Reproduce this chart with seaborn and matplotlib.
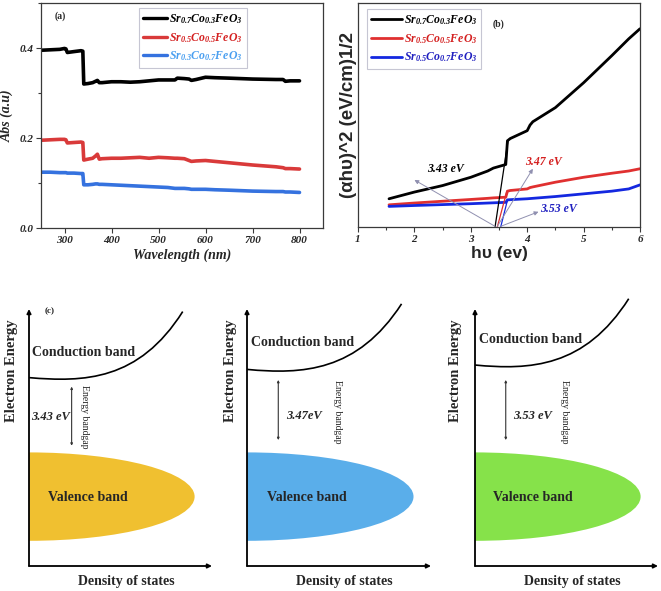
import numpy as np
import pandas as pd
import matplotlib
matplotlib.use('Agg')
import matplotlib.pyplot as plt
import seaborn as sns
from matplotlib.patches import Ellipse, Rectangle, PathPatch
from matplotlib.path import Path
from matplotlib.ticker import MultipleLocator

# ---------------- data ----------------
# panel (a): absorbance vs wavelength
wl_a = [250, 270, 290, 300, 303, 306, 320, 335, 339, 341, 350, 360, 366, 370, 374, 380,
        400, 420, 440, 460, 480, 500, 520, 535, 540, 555, 565, 570, 580, 600, 620, 650,
        700, 750, 765, 770, 780, 800]
abs_sr07 = [0.395, 0.396, 0.397, 0.399, 0.398, 0.390, 0.392, 0.394, 0.393, 0.320, 0.321, 0.323,
            0.326, 0.328, 0.323, 0.323, 0.325, 0.325, 0.324, 0.325, 0.327, 0.329, 0.329, 0.329,
            0.333, 0.332, 0.331, 0.328, 0.330, 0.335, 0.334, 0.333, 0.331, 0.330, 0.330, 0.326,
            0.327, 0.327]
abs_sr05 = [0.195, 0.196, 0.197, 0.197, 0.196, 0.189, 0.190, 0.191, 0.190, 0.151, 0.153, 0.155,
            0.160, 0.164, 0.153, 0.154, 0.155, 0.155, 0.156, 0.157, 0.155, 0.157, 0.156, 0.155,
            0.155, 0.154, 0.150, 0.148, 0.149, 0.150, 0.148, 0.145, 0.140, 0.136, 0.134, 0.132,
            0.132, 0.131]
abs_sr03 = [0.124, 0.124, 0.123, 0.123, 0.123, 0.122, 0.122, 0.121, 0.121, 0.096, 0.096, 0.097,
            0.098, 0.098, 0.097, 0.097, 0.096, 0.095, 0.094, 0.093, 0.092, 0.091, 0.090, 0.088,
            0.088, 0.088, 0.087, 0.086, 0.086, 0.086, 0.085, 0.084, 0.082, 0.081, 0.081, 0.080,
            0.080, 0.079]
labels_a = [r'$Sr_{0.7}Co_{0.3}FeO_{3}$', r'$Sr_{0.5}Co_{0.5}FeO_{3}$', r'$Sr_{0.3}Co_{0.7}FeO_{3}$']
xticks_a = [300, 400, 500, 600, 700, 800]
xticklabels_a = ['300', '400', '500', '600', '700', '800']
yticks_a = [0.0, 0.2, 0.4]
yticklabels_a = ['0.0', '0.2', '0.4']

# panel (b): Tauc plot
hv_b = [1.55, 2.0, 2.5, 3.0, 3.3, 3.4, 3.62, 3.65, 3.7, 4.0, 4.05, 4.1, 4.5, 5.0, 5.5, 5.8, 6.0]
tauc_sr07 = [12.6, 15.6, 18.5, 22.2, 25.0, 26.3, 27.9, 38.5, 39.5, 43.0, 45.5, 47.0, 53.3, 64.4,
             76.5, 84.0, 88.5]
tauc_sr05 = [9.9, 10.7, 11.5, 12.3, 12.8, 13.0, 13.3, 16.0, 16.3, 17.0, 17.6, 17.9, 20.0, 22.2,
             24.0, 25.0, 26.0]
tauc_sr03 = [9.2, 9.6, 10.0, 10.4, 10.7, 10.8, 11.0, 12.1, 12.2, 12.6, 12.7, 12.8, 13.6, 14.8,
             16.0, 17.0, 18.8]
labels_b = [r'$Sr_{0.7}Co_{0.3}FeO_{3}$', r'$Sr_{0.5}Co_{0.5}FeO_{3}$', r'$Sr_{0.5}Co_{0.7}FeO_{3}$']
bandgaps = [3.43, 3.47, 3.53]
gap_labels = ['3.43 eV', '3.47 eV', '3.53 eV']
tangent_top_x = [3.66, 3.64, 3.65]
tangent_top_y = [38.5, 16.0, 12.0]
xticks_b = [1, 2, 3, 4, 5, 6]
xticklabels_b = ['1', '2', '3', '4', '5', '6']

# panel (c): band diagrams
diag_gap_labels = ['3.43 eV', '3.47eV', '3.53 eV']
diag_colors = ['#f0c030', '#5aaeea', '#86e24a']

# ---------------- style ----------------
sns.set_theme(style='ticks')
plt.rcParams['font.family'] = ['Liberation Serif', 'DejaVu Serif']
plt.rcParams['mathtext.fontset'] = 'custom'
plt.rcParams['mathtext.rm'] = 'Liberation Serif:italic:bold'
plt.rcParams['mathtext.it'] = 'Liberation Serif:italic:bold'
plt.rcParams['mathtext.bf'] = 'Liberation Serif:italic:bold'

W, H = 661, 591
fig = plt.figure(figsize=(W / 100, H / 100), dpi=100)


def px_axes(x0, y0, x1, y1):
    return fig.add_axes([x0 / W, 1 - y1 / H, (x1 - x0) / W, (y1 - y0) / H])


tick_font = dict(fontstyle='italic', fontweight='bold', fontsize=8, family='Liberation Serif')
spine_col = '#3a3a3a'

# ---------------- panel (a) ----------------
axa = px_axes(41, 3, 323, 228)
dfa = pd.DataFrame({
    'wl': wl_a * 3,
    'abs': abs_sr07 + abs_sr05 + abs_sr03,
    's': [labels_a[0]] * len(wl_a) + [labels_a[1]] * len(wl_a) + [labels_a[2]] * len(wl_a),
})
pal_a = {labels_a[0]: '#000000', labels_a[1]: '#d93a3a', labels_a[2]: '#3572df'}
sns.lineplot(data=dfa, x='wl', y='abs', hue='s', palette=pal_a, linewidth=2.6, ax=axa,
             legend=True, estimator=None, sort=False)
axa.set_xlim(250, 850)
axa.set_ylim(0, 0.5)
axa.set_xticks(xticks_a)
axa.set_xticklabels(xticklabels_a, **tick_font)
axa.set_yticks(yticks_a)
axa.set_yticklabels(yticklabels_a, **tick_font)
axa.yaxis.set_minor_locator(MultipleLocator(0.1))
axa.tick_params(which='major', direction='out', length=3.5, width=0.8, color=spine_col, pad=2)
axa.tick_params(which='minor', direction='out', length=2.5, width=0.8, color=spine_col)
for s in axa.spines.values():
    s.set_color(spine_col)
    s.set_linewidth(0.9)
axa.set_xlabel('Wavelength (nm)', fontsize=10, fontstyle='italic', fontweight='bold', labelpad=3)
axa.set_ylabel('Abs (a.u)', fontsize=10, fontstyle='italic', fontweight='bold', labelpad=4)
leg = axa.legend(loc='upper left', bbox_to_anchor=(0.348, 0.978), borderaxespad=0, fontsize=8.5,
                 handlelength=2.0, handletextpad=0.2, labelspacing=0.42, frameon=True,
                 fancybox=False, edgecolor='#b8b8c8', borderpad=0.35)
leg.get_frame().set_linewidth(0.8)
for t, c in zip(leg.get_texts(), ['#000000', '#d42020', '#4a9ff0']):
    t.set_color(c)
for l in leg.get_lines():
    l.set_linewidth(2.4)
axa.text(0.067, 0.94, '(a)', transform=axa.transAxes, fontsize=7, fontweight='bold',
         ha='center', va='center')

# ---------------- panel (b) ----------------
axb = px_axes(358, 3, 640, 227)
dfb = pd.DataFrame({
    'hv': hv_b * 3,
    'y': tauc_sr07 + tauc_sr05 + tauc_sr03,
    's': [labels_b[0]] * len(hv_b) + [labels_b[1]] * len(hv_b) + [labels_b[2]] * len(hv_b),
})
line_cols_b = ['#000000', '#e03030', '#1428e0']
pal_b = dict(zip(labels_b, line_cols_b))
sns.lineplot(data=dfb, x='hv', y='y', hue='s', palette=pal_b, linewidth=2.0, ax=axb,
             legend=True, estimator=None, sort=False)
# tangent (extrapolation) lines
for g, tx, ty, c in zip(bandgaps, tangent_top_x, tangent_top_y, line_cols_b):
    sns.lineplot(x=[g, tx], y=[0, ty], color=c, linewidth=0.9, ax=axb, legend=False)
axb.set_xlim(1, 6)
axb.set_ylim(0, 100)
axb.set_xticks(xticks_b)
axb.set_xticklabels(xticklabels_b, **tick_font)
axb.xaxis.set_minor_locator(MultipleLocator(0.5))
axb.set_yticks([])
axb.tick_params(which='major', direction='out', length=3.5, width=0.8, color=spine_col, pad=2)
axb.tick_params(which='minor', direction='out', length=2.5, width=0.8, color=spine_col)
for s in axb.spines.values():
    s.set_color(spine_col)
    s.set_linewidth(0.9)
axb.set_xlabel('hυ (ev)', fontsize=12.5, fontweight='bold', family=['Liberation Sans', 'DejaVu Sans'],
               labelpad=2)
axb.set_ylabel('(αhυ)^2 (eV/cm)1/2', fontsize=13.5, fontweight='bold',
               family=['Liberation Sans', 'DejaVu Sans'], labelpad=1)
legb = axb.legend(loc='upper left', bbox_to_anchor=(0.031, 0.973), borderaxespad=0, fontsize=8.5,
                  handlelength=2.6, handletextpad=0.2, labelspacing=0.42, frameon=True,
                  fancybox=False, edgecolor='#b8b8c8', borderpad=0.35)
legb.get_frame().set_linewidth(0.8)
for t, c in zip(legb.get_texts(), ['#000000', '#d42020', '#2020c0']):
    t.set_color(c)
for l in legb.get_lines():
    l.set_linewidth(2.0)
axb.text(0.497, 0.906, '(b)', transform=axb.transAxes, fontsize=7, fontweight='bold',
         ha='center', va='center')
# gap annotations
ann_xy = [(2.0, 21.0), (4.1, 26.0), (4.2, 6.8)]
ann_text = [(2.55, 26.0), (4.28, 29.0), (4.56, 8.1)]
ann_cols = ['#000000', '#d42020', '#2020c0']
for g, xy, txy, lab, c in zip(bandgaps, ann_xy, ann_text, gap_labels, ann_cols):
    axb.annotate('', xy=xy, xytext=(g, 0.3),
                 arrowprops=dict(arrowstyle='-|>', color='#9090b0', lw=0.7, mutation_scale=6,
                                 shrinkA=0, shrinkB=0))
    axb.text(txy[0], txy[1], lab, color=c, fontsize=8.5, fontstyle='italic', fontweight='bold',
             ha='center', va='center')

# ---------------- panel (c) ----------------
diag_origins = [29, 247, 475]
diag_widths = [183, 184, 183]
cb_ctrl = [
    [(0, 0.733), (0.30, 0.715), (0.60, 0.72), (0.84, 0.99)],
    [(0, 0.765), (0.30, 0.745), (0.60, 0.755), (0.84, 1.02)],
    [(0, 0.782), (0.30, 0.762), (0.60, 0.772), (0.84, 1.04)],
]
cb_text = [(0.015, 0.83), (0.02, 0.87), (0.023, 0.88)]
gap_arrow_x = [0.233, 0.17, 0.168]
gap_arrow_y = [(0.468, 0.698), (0.49, 0.724), (0.49, 0.724)]
gap_text = [(0.01, 0.58), (0.215, 0.584), (0.21, 0.584)]
bandgap_text_x = [0.306, 0.49, 0.49]
bandgap_text_y = [0.58, 0.60, 0.60]
ee_x = [-0.095, -0.09, -0.105]
vb_text_x = [0.105, 0.107, 0.10]

for i in range(3):
    ox = diag_origins[i]
    ax = fig.add_axes([ox / W, (H - 566) / H, diag_widths[i] / W, 257 / H])
    ax.set_xlim(0, 1)
    ax.set_ylim(0, 1)
    ax.axis('off')
    # valence band (right half of an ellipse)
    e = Ellipse((0, 0.27), 2 * 0.905, 0.344, facecolor=diag_colors[i], edgecolor='none', zorder=1)
    ax.add_patch(e)
    e.set_clip_path(Rectangle((0, -1), 2, 3, transform=ax.transData))
    # axes arrows
    ax.annotate('', xy=(0, 1.0), xytext=(0, 0),
                arrowprops=dict(arrowstyle='-|>', lw=1.3, color='black', mutation_scale=6,
                                shrinkA=0, shrinkB=0), annotation_clip=False, zorder=3)
    ax.annotate('', xy=(1.0, 0), xytext=(0, 0),
                arrowprops=dict(arrowstyle='-|>', lw=1.3, color='black', mutation_scale=6,
                                shrinkA=0, shrinkB=0), annotation_clip=False, zorder=3)
    # conduction band curve
    path = Path(cb_ctrl[i], [Path.MOVETO, Path.CURVE4, Path.CURVE4, Path.CURVE4])
    ax.add_patch(PathPatch(path, facecolor='none', edgecolor='black', lw=1.2, clip_on=False))
    ax.text(cb_text[i][0], cb_text[i][1], 'Conduction band', fontsize=10, fontweight='bold',
            ha='left', va='center')
    # gap arrow
    ax.annotate('', xy=(gap_arrow_x[i], gap_arrow_y[i][1]), xytext=(gap_arrow_x[i], gap_arrow_y[i][0]),
                arrowprops=dict(arrowstyle='<|-|>', lw=0.8, color='#333333', mutation_scale=3,
                                shrinkA=0, shrinkB=0))
    ax.text(gap_text[i][0], gap_text[i][1], diag_gap_labels[i], fontsize=9, fontstyle='italic',
            fontweight='bold', ha='left', va='center')
    ax.text(bandgap_text_x[i], bandgap_text_y[i], 'Energy bandgap', fontsize=7, rotation=-90,
            ha='center', va='center')
    ax.text(vb_text_x[i], 0.267, 'Valence band', fontsize=10, fontweight='bold', ha='left',
            va='center', zorder=4)
    ax.text(0.53, -0.061, 'Density of states', fontsize=10, fontweight='bold', ha='center',
            va='center')
    ax.text(ee_x[i], 0.76, 'Electron Energy', fontsize=10.5, fontweight='bold', rotation=90,
            ha='center', va='center')
    if i == 0:
        ax.text(0.115, 0.99, '(c)', fontsize=6.5, fontweight='bold', ha='center', va='center')

fig.savefig('out.png', dpi=100)
